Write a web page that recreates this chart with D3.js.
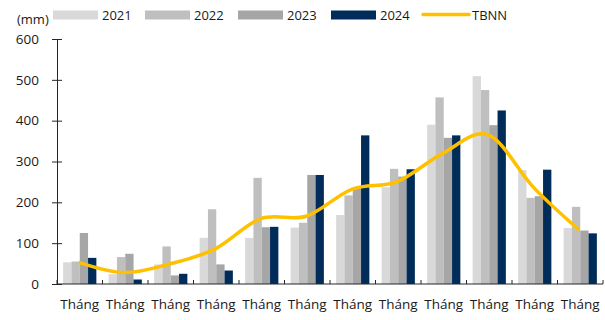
<!DOCTYPE html>
<html>
<head>
<meta charset="utf-8">
<script src="https://cdn.jsdelivr.net/npm/d3@7"></script>
<style>
  html, body { margin: 0; padding: 0; background: #fff; }
  svg { display: block; }
  text { font-family: "Open Sans", "Liberation Sans", sans-serif; fill: #1a1a1a; }
</style>
</head>
<body>
<svg id="chart" width="605" height="320"></svg>
<script>
const months = ["1","2","3","4","5","6","7","8","9","10","11","12"];
const seriesNames = ["2021","2022","2023","2024"];
const v2021 = [53, 24, 48, 113, 113, 138, 169, 237, 390, 509, 279, 137];
const v2022 = [55, 66, 92, 183, 260, 150, 217, 282, 457, 475, 211, 189];
const v2023 = [125, 74, 21, 48, 139, 267, 235, 263, 358, 389, 215, 131];
const v2024 = [64, 11, 25, 33, 140, 267, 364, 281, 364, 425, 280, 124];
const tbnn  = [53, 28, 49, 86, 160, 166, 232, 251, 320, 365, 236, 132];
const yTicks = [0, 100, 200, 300, 400, 500, 600];
const colors = ["#d9d9d9", "#bfbfbf", "#a6a6a6", "#002c59"];
const lineColor = "#ffc000";

const seriesValues = [v2021, v2022, v2023, v2024];

const svg = d3.select("#chart");
const mLeft = 57, mRight = 603, mTop = 39, mBottom = 284;

const x0 = d3.scaleBand().domain(months).range([mLeft, mRight]).paddingInner(0.27).paddingOuter(0.135);
const x1 = d3.scaleBand().domain(seriesNames).range([0, x0.bandwidth()]).padding(0);
const y = d3.scaleLinear().domain([0, 600]).range([mBottom, mTop]);

// bars
seriesNames.forEach((s, si) => {
  svg.append("g").selectAll("rect")
    .data(seriesValues[si])
    .join("rect")
    .attr("x", (d, i) => x0(months[i]) + x1(s))
    .attr("y", d => y(d))
    .attr("width", x1.bandwidth())
    .attr("height", d => y(0) - y(d))
    .attr("fill", colors[si]);
});

// TBNN line
const line = d3.line()
  .x((d, i) => x0(months[i]) + x0.bandwidth() / 2 - 1)
  .y(d => y(d))
  .curve(d3.curveCatmullRom.alpha(0));
svg.append("path")
  .datum(tbnn)
  .attr("d", line)
  .attr("fill", "none")
  .attr("stroke", lineColor)
  .attr("stroke-width", 3.5)
  .attr("stroke-linejoin", "round");

// Y axis
const yAxis = svg.append("g")
  .attr("transform", `translate(${mLeft},0)`)
  .call(d3.axisLeft(y).tickValues(yTicks).tickFormat(d3.format("d")).tickSizeOuter(0).tickSize(5).tickPadding(13));
yAxis.select(".domain").attr("stroke", "#262626");
yAxis.selectAll(".tick line").attr("x1", 5).attr("x2", -5).attr("stroke", "#262626");
yAxis.selectAll(".tick text").style("font-size", "13.5px").attr("fill", "#1a1a1a").style("font-family", "'Open Sans', sans-serif");

// X axis
const xAxis = svg.append("g")
  .attr("transform", `translate(0,${mBottom})`)
  .call(d3.axisBottom(x0).tickSize(0).tickSizeOuter(0).tickFormat(""));
xAxis.select(".domain").attr("stroke", "#262626").attr("d", `M${mLeft},0H${mRight}`);

// boundary ticks pointing up
const step = x0.step();
const boundaries = d3.range(months.length + 1).map(i => (i === 0 ? mLeft : x0(months[i - 1]) + x0.bandwidth() + step * x0.paddingInner() / 2));
svg.append("g").selectAll("line")
  .data(boundaries)
  .join("line")
  .attr("x1", d => d).attr("x2", d => d)
  .attr("y1", mBottom).attr("y2", mBottom - 4)
  .attr("stroke", "#262626").attr("stroke-width", 1);

// x labels: "Tháng" + number on second line (clipped by the picture edge, as in the reference)
const lbl = svg.append("g").selectAll("text")
  .data(months)
  .join("text")
  .attr("x", d => x0(d) + x0.bandwidth() / 2)
  .attr("y", 309)
  .attr("text-anchor", "middle")
  .style("font-size", "13.5px");
lbl.append("tspan").text("Tháng");
lbl.append("tspan").attr("x", d => x0(d) + x0.bandwidth() / 2).attr("dy", 19.5).text(d => d);

// unit label
svg.append("text").attr("x", 17).attr("y", 24).style("font-size", "13px").text("(mm)");

// legend
const legendItems = [
  {name: "2021", x: 53, color: colors[0], type: "rect"},
  {name: "2022", x: 145, color: colors[1], type: "rect"},
  {name: "2023", x: 238, color: colors[2], type: "rect"},
  {name: "2024", x: 331, color: colors[3], type: "rect"},
  {name: "TBNN", x: 423, color: lineColor, type: "line"}
];
const lg = svg.append("g");
legendItems.forEach(it => {
  if (it.type === "rect") {
    lg.append("rect").attr("x", it.x).attr("y", 10.5).attr("width", 45).attr("height", 9).attr("fill", it.color);
  } else {
    lg.append("line").attr("x1", it.x).attr("x2", it.x + 46).attr("y1", 14.5).attr("y2", 14.5)
      .attr("stroke", it.color).attr("stroke-width", 3.5).attr("stroke-linecap", "round");
  }
  lg.append("text").attr("x", it.x + 49).attr("y", 19.5).style("font-size", "13px").text(it.name);
});
</script>
</body>
</html>
